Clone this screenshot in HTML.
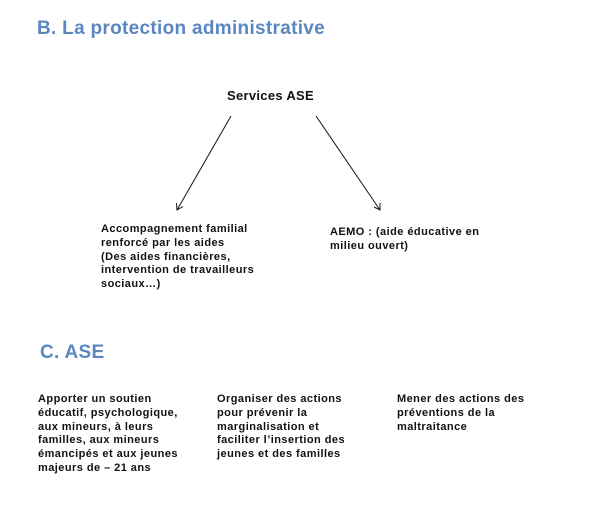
<!DOCTYPE html>
<html><head><meta charset="utf-8"><style>
body{margin:0;width:602px;height:516px;background:#fff;position:relative;overflow:hidden;font-family:"Liberation Sans",sans-serif;font-weight:bold;color:#111}
.a{position:absolute;white-space:nowrap}
.h{color:#5b87c0;font-size:19px;letter-spacing:0.3px}
.t{font-size:11px;line-height:13.8px;letter-spacing:0.45px}
</style></head><body>
<div class="a h" style="left:37px;top:18px">B. La protection administrative</div>
<div class="a" style="left:227px;top:88px;font-size:13px;letter-spacing:0.3px">Services ASE</div>
<svg class="a" style="left:0;top:0" width="602" height="516">
<g stroke="#111" stroke-width="1" fill="none">
<line x1="231" y1="116" x2="177" y2="210"/>
<polyline points="176.5,203 177,210 183,206.5"/>
<line x1="316" y1="116" x2="380" y2="210"/>
<polyline points="374,207 380,210 380,203"/>
</g></svg>
<div class="a t" style="left:101px;top:223px">Accompagnement familial<br>renforcé par les aides<br>(Des aides financières,<br>intervention de travailleurs<br>sociaux…)</div>
<div class="a t" style="left:330px;top:226px">AEMO : (aide éducative en<br>milieu ouvert)</div>
<div class="a h" style="left:40px;top:342px">C. ASE</div>
<div class="a t" style="left:38px;top:393px">Apporter un soutien<br>éducatif, psychologique,<br>aux mineurs, à leurs<br>familles, aux mineurs<br>émancipés et aux jeunes<br>majeurs de – 21 ans</div>
<div class="a t" style="left:217px;top:393px">Organiser des actions<br>pour prévenir la<br>marginalisation et<br>faciliter l’insertion des<br>jeunes et des familles</div>
<div class="a t" style="left:397px;top:393px">Mener des actions des<br>préventions de la<br>maltraitance</div>
</body></html>
